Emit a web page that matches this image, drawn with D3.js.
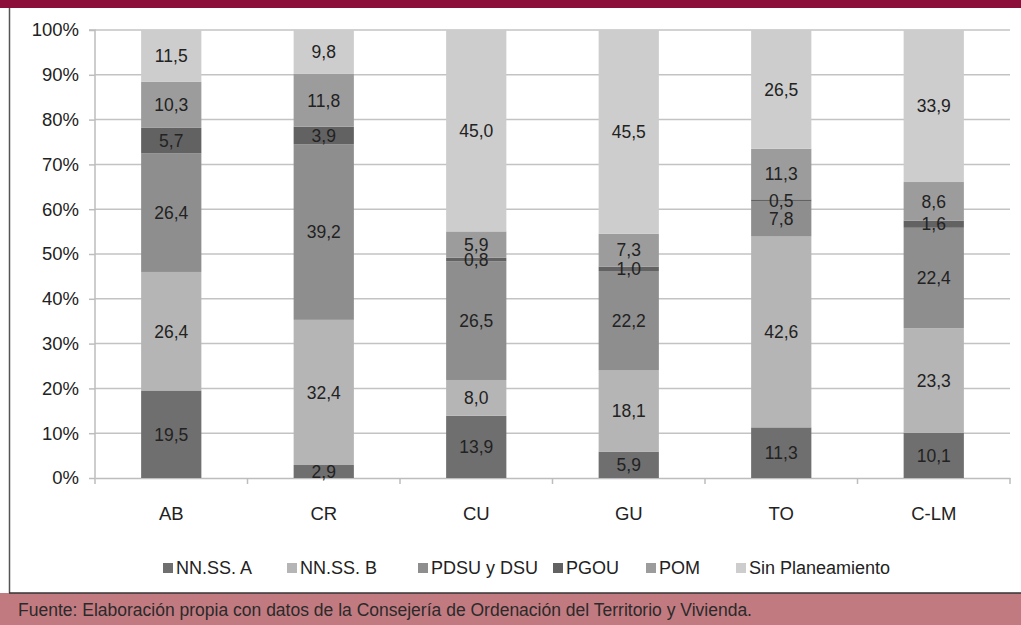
<!DOCTYPE html>
<html><head><meta charset="utf-8">
<script src="https://cdn.jsdelivr.net/npm/d3@7"></script>
<style>
html,body{margin:0;padding:0;background:#fff;}
svg{display:block;}
</style></head>
<body>
<svg id="c" width="1021" height="625"></svg>
<script>
const categories = ["AB","CR","CU","GU","TO","C-LM"];
const seriesNames = ["NN.SS. A","NN.SS. B","PDSU y DSU","PGOU","POM","Sin Planeamiento"];
const nnssA   = [19.5, 2.9, 13.9, 5.9, 11.3, 10.1];
const nnssB   = [26.4, 32.4, 8.0, 18.1, 42.6, 23.3];
const pdsu    = [26.4, 39.2, 26.5, 22.2, 7.8, 22.4];
const pgou    = [5.7, 3.9, 0.8, 1.0, 0.5, 1.6];
const pom     = [10.3, 11.8, 5.9, 7.3, 11.3, 8.6];
const sinPlan = [11.5, 9.8, 45.0, 45.5, 26.5, 33.9];
const yTicks = [0,10,20,30,40,50,60,70,80,90,100];
const colors = ["#6f6f6f","#b5b5b5","#8e8e8e","#626262","#9c9c9c","#cdcdcd"];

(function(){
const seriesVals = [nnssA, nnssB, pdsu, pgou, pom, sinPlan];
const rows = categories.map((c,i)=>{
  const r = {cat:c};
  seriesNames.forEach((s,j)=> r[s] = seriesVals[j][i]);
  return r;
});
const stack = d3.stack().keys(seriesNames).offset(d3.stackOffsetExpand);
const stacked = stack(rows);

const svg = d3.select("#c");
const W = 1021, H = 625;
const font = "'Liberation Sans Narrow','Liberation Sans',Arial,sans-serif";

svg.append("rect").attr("x",0).attr("y",0).attr("width",W).attr("height",H).attr("fill","#fff");
svg.append("rect").attr("x",0).attr("y",0).attr("width",W).attr("height",8).attr("fill","#8b0f3a");
svg.append("line").attr("x1",9.5).attr("x2",9.5).attr("y1",8).attr("y2",593).attr("stroke","#555").attr("stroke-width",1.5);
svg.append("rect").attr("x",0).attr("y",593).attr("width",W).attr("height",32).attr("fill","#c27a81");
svg.append("line").attr("x1",9).attr("x2",W).attr("y1",593).attr("y2",593).attr("stroke","#333").attr("stroke-width",1.5);
svg.append("text").attr("x",18).attr("y",616).attr("font-family",font).attr("font-size",17.5)
  .attr("textLength",734).attr("lengthAdjust","spacingAndGlyphs")
  .attr("fill","#2a2a2a").text("Fuente: Elaboración propia con datos de la Consejería de Ordenación del Territorio y Vivienda.");

const pL = 95, pR = 1010, pT = 30, pB = 478;
const x = d3.scaleBand().domain(categories).range([pL,pR]).paddingInner(0.605).paddingOuter(0.3025);
const y = d3.scaleLinear().domain([0,1]).range([pB,pT]);

svg.append("g").selectAll("line").data(yTicks.slice(1)).join("line")
  .attr("x1",pL).attr("x2",pR).attr("y1",d=>y(d/100)).attr("y2",d=>y(d/100))
  .attr("stroke","#c3c3c3").attr("stroke-width",1.5);

const yAxis = d3.axisLeft(y).tickValues(yTicks.map(d=>d/100)).tickFormat(d=>Math.round(d*100)+"%").tickSize(6).tickPadding(10);
const gy = svg.append("g").attr("transform",`translate(${pL},0)`).call(yAxis);
gy.select(".domain").attr("stroke","#bdbdbd").attr("stroke-width",1.5).attr("d",`M-6,${pT}H0V${pB}`);
gy.selectAll(".tick line").attr("stroke","#bdbdbd").attr("stroke-width",1.5);
gy.selectAll(".tick text").attr("font-family",font).attr("font-size",18.5).attr("fill","#222");

const xAxis = d3.axisBottom(x).tickSize(0).tickPadding(29);
const gx = svg.append("g").attr("transform",`translate(0,${pB})`).call(xAxis);
gx.select(".domain").attr("stroke","#bdbdbd").attr("stroke-width",1.5);
gx.selectAll(".tick text").attr("font-family",font).attr("font-size",18.5).attr("fill","#222");
const step = x.step();
svg.append("g").selectAll("line").data(d3.range(categories.length+1)).join("line")
  .attr("x1",i=>pL+i*step).attr("x2",i=>pL+i*step).attr("y1",pB).attr("y2",pB+6)
  .attr("stroke","#bdbdbd").attr("stroke-width",1.5);

const layers = svg.append("g").selectAll("g").data(stacked).join("g").attr("fill",(d,i)=>colors[i]);
layers.selectAll("rect").data(d=>d).join("rect")
  .attr("x",d=>x(d.data.cat)).attr("width",x.bandwidth())
  .attr("y",d=>y(d[1])).attr("height",d=>y(d[0])-y(d[1]));

const lbl = svg.append("g");
stacked.forEach((layer)=>{
  layer.forEach((d)=>{
    const v = d.data[layer.key];
    lbl.append("text")
      .attr("x",x(d.data.cat)+x.bandwidth()/2)
      .attr("y",(y(d[0])+y(d[1]))/2)
      .attr("dy","0.36em")
      .attr("text-anchor","middle")
      .attr("font-family",font).attr("font-size",17.5).attr("fill","#222")
      .text(d3.format(".1f")(v).replace(".",","));
  });
});

const legX = [163, 287, 418, 553, 646, 736];
const leg = svg.append("g");
seriesNames.forEach((s,i)=>{
  leg.append("rect").attr("x",legX[i]).attr("y",563).attr("width",10).attr("height",10).attr("fill",colors[i]);
  leg.append("text").attr("x",legX[i]+13).attr("y",568).attr("dy","0.36em")
    .attr("font-family",font).attr("font-size",18).attr("fill","#222").text(s);
});
})();
</script>
</body></html>
